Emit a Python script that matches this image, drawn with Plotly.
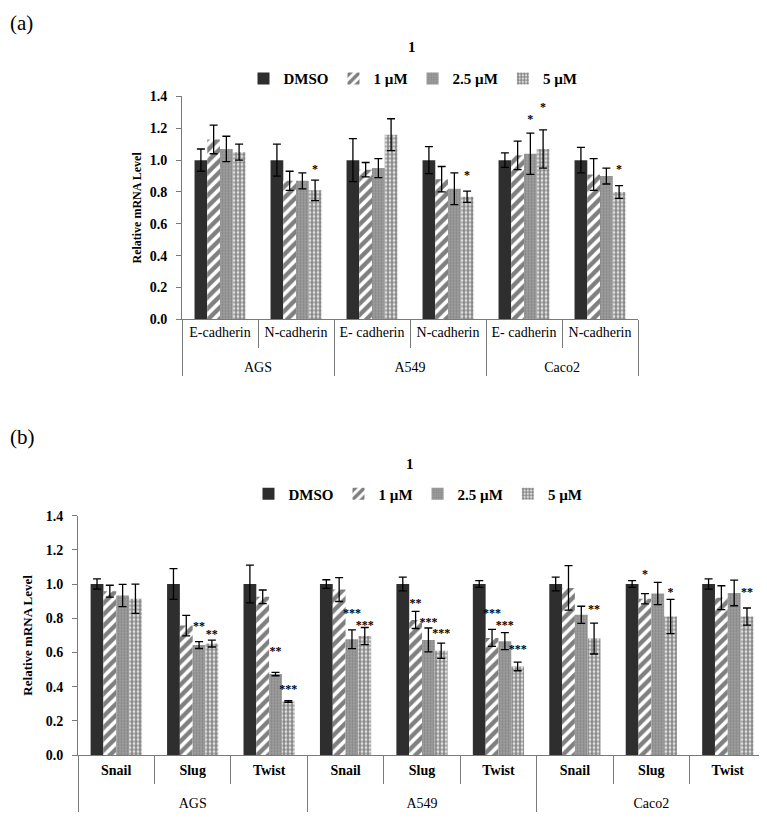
import plotly.graph_objects as go

# series names
doses = ["DMSO", "1 µM", "2.5 µM", "5 µM"]

# ---- panel (a): cadherins (listed gene by gene so the axis keeps E before N) ----
a_lines = ["AGS", "A549", "Caco2", "AGS", "A549", "Caco2"]
a_genes = ["E-cadherin", "E- cadherin", "E- cadherin", "N-cadherin", "N-cadherin", "N-cadherin"]
a_dmso = [1.00, 1.00, 1.00, 1.00, 1.00, 1.00]
a_1um = [1.13, 0.94, 1.03, 0.87, 0.88, 0.91]
a_25um = [1.07, 0.95, 1.04, 0.87, 0.82, 0.90]
a_5um = [1.05, 1.16, 1.07, 0.81, 0.77, 0.80]
a_dmso_err = [0.07, 0.135, 0.045, 0.10, 0.085, 0.08]
a_1um_err = [0.09, 0.045, 0.09, 0.06, 0.08, 0.10]
a_25um_err = [0.08, 0.06, 0.13, 0.05, 0.10, 0.05]
a_5um_err = [0.05, 0.10, 0.12, 0.065, 0.035, 0.04]
a_25um_sig = ["", "", "*", "", "", ""]
a_5um_sig = ["", "", "*", "*", "*", "*"]
a_25um_sig_y = [None, None, 1.25, None, None, None]
a_5um_sig_y = [None, None, 1.33, 0.935, 0.90, 0.94]

# ---- panel (b): EMT transcription factors ----
b_lines = ["AGS"] * 3 + ["A549"] * 3 + ["Caco2"] * 3
b_genes = ["Snail", "Slug", "Twist"] * 3
b_dmso = [1.00, 1.00, 1.00, 1.00, 1.00, 1.00, 1.00, 1.00, 1.00]
b_1um = [0.958, 0.757, 0.925, 0.968, 0.79, 0.685, 0.977, 0.914, 0.92]
b_25um = [0.933, 0.643, 0.474, 0.677, 0.673, 0.666, 0.82, 0.945, 0.948]
b_5um = [0.914, 0.652, 0.314, 0.696, 0.61, 0.518, 0.681, 0.81, 0.81]
b_dmso_err = [0.03, 0.09, 0.11, 0.025, 0.04, 0.02, 0.04, 0.02, 0.03]
b_1um_err = [0.035, 0.06, 0.04, 0.07, 0.05, 0.05, 0.13, 0.03, 0.07]
b_25um_err = [0.065, 0.02, 0.01, 0.055, 0.07, 0.05, 0.05, 0.065, 0.075]
b_5um_err = [0.085, 0.02, 0.005, 0.05, 0.045, 0.025, 0.09, 0.10, 0.05]
b_1um_sig = ["", "", "", "", "**", "***", "", "*", ""]
b_25um_sig = ["", "**", "**", "***", "***", "***", "", "", ""]
b_5um_sig = ["", "**", "***", "***", "***", "***", "**", "*", "**"]
b_1um_sig_y = [None, None, None, None, 0.885, 0.825, None, 1.05, None]
b_25um_sig_y = [None, 0.75, 0.60, 0.825, 0.77, 0.755, None, None, None]
b_5um_sig_y = [None, 0.70, 0.38, 0.755, 0.71, 0.615, 0.85, 0.945, 0.945]

SERIF = "Liberation Serif, Times New Roman, serif"
AXC = "#7a7a7a"

# fill look for each dose (solid / stripes / grey dots / speckles)
styles = [
    dict(color="#2e2e2e"),
    dict(color="white", pattern=dict(shape="/", fgcolor="black", bgcolor="white", size=8, solidity=0.55)),
    dict(color="#929292", pattern=dict(shape=".", fgcolor="#6a6a6a", bgcolor="#9c9c9c", size=3, solidity=0.35)),
    dict(color="white", pattern=dict(shape=".", fgcolor="#111111", bgcolor="white", size=4, solidity=0.7)),
]

fig = go.Figure()


def add_panel(xcats, vals, errs, sigs, sig_ys, xa, ya, legend):
    for name, v, e, st in zip(doses, vals, errs, styles):
        fig.add_trace(go.Bar(
            x=xcats, y=v, name=name, xaxis=xa, yaxis=ya, legend=legend,
            marker=dict(line=dict(width=0), **st),
            error_y=dict(type="data", array=e, color="black", thickness=1.3, width=4),
        ))
    # stars: one text trace per dose so they line up with the bars
    n = len(xcats[0])
    for name, s, sy in zip(doses, sigs, sig_ys):
        fig.add_trace(go.Scatter(
            x=xcats, y=sy if sy else [None] * n, text=s if s else [""] * n,
            mode="text", name=name, xaxis=xa, yaxis=ya,
            showlegend=False, hoverinfo="skip", marker=dict(color="black"),
            textfont=dict(family=SERIF, size=12, color="#000000", weight="bold"),
        ))


# a blank second line under each gene name leaves room above the cell-line row
a_x = [a_lines, [g + "<br> " for g in a_genes]]
b_x = [b_lines, ["<b>%s</b><br> " % g for g in b_genes]]

add_panel(a_x, [a_dmso, a_1um, a_25um, a_5um],
          [a_dmso_err, a_1um_err, a_25um_err, a_5um_err],
          [None, None, a_25um_sig, a_5um_sig],
          [None, None, a_25um_sig_y, a_5um_sig_y],
          "x", "y", "legend")
add_panel(b_x, [b_dmso, b_1um, b_25um, b_5um],
          [b_dmso_err, b_1um_err, b_25um_err, b_5um_err],
          [None, b_1um_sig, b_25um_sig, b_5um_sig],
          [None, b_1um_sig_y, b_25um_sig_y, b_5um_sig_y],
          "x2", "y2", "legend2")

# the page body has an 8px margin, so the figure is drawn 8px in from the corner
OFF = 8
W, H = 767 - OFF, 822 - OFF


def px_x(p):
    return (p - OFF) / W


def px_y(p):
    return 1 - (p - OFF) / H


xaxis_common = dict(
    type="multicategory", showline=True, linecolor=AXC, linewidth=1,
    ticks="outside", ticklen=28, tickcolor=AXC, tickangle=0, showdividers=True,
    dividercolor=AXC, dividerwidth=1, showgrid=False, zeroline=False,
    tickfont=dict(family=SERIF, size=14, color="black"),
)
yaxis_common = dict(
    range=[0, 1.4], dtick=0.2, tickformat=".1f", showline=True, linecolor=AXC,
    ticks="outside", ticklen=5, tickcolor=AXC, showgrid=False, zeroline=False,
    ticklabelstandoff=6,
    tickfont=dict(family=SERIF, size=14, color="black", weight="bold"),
)

legend_common = dict(
    orientation="h", xanchor="center", yanchor="middle",
    font=dict(family=SERIF, size=15, color="black", weight="bold"),
    itemwidth=30, bgcolor="rgba(0,0,0,0)", traceorder="normal",
)

fig.update_layout(
    width=W, height=H, margin=dict(l=0, r=0, t=0, b=0),
    paper_bgcolor="white", plot_bgcolor="white",
    barmode="group", bargap=0.33, bargroupgap=0,
    scattermode="group", scattergap=0.33,
    xaxis=dict(domain=[px_x(182), px_x(638)], anchor="y", **xaxis_common),
    yaxis=dict(domain=[px_y(318), px_y(91)], anchor="x",
               title=dict(text="Relative mRNA Level", standoff=5,
                          font=dict(family=SERIF, size=12, color="black", weight="bold")),
               **yaxis_common),
    xaxis2=dict(domain=[px_x(78), px_x(766)], anchor="y2", ticklabelstandoff=2, **xaxis_common),
    yaxis2=dict(domain=[px_y(762), px_y(518)], anchor="x2",
                title=dict(text="Relative mRNA Level", standoff=10,
                           font=dict(family=SERIF, size=13, color="black", weight="bold")),
                **yaxis_common),
    legend=dict(x=px_x(413), y=px_y(73), **legend_common),
    legend2=dict(x=px_x(418), y=px_y(496), **legend_common),
    showlegend=True,
    annotations=[
        dict(text="(a)", x=px_x(8), y=px_y(16), xref="paper", yref="paper",
             xanchor="left", yanchor="middle", showarrow=False,
             font=dict(family=SERIF, size=21, color="black")),
        dict(text="(b)", x=px_x(8), y=px_y(438), xref="paper", yref="paper",
             xanchor="left", yanchor="middle", showarrow=False,
             font=dict(family=SERIF, size=21, color="black")),
        dict(text="1", x=px_x(412), y=px_y(41), xref="paper", yref="paper",
             xanchor="center", yanchor="middle", showarrow=False,
             font=dict(family=SERIF, size=15, color="black", weight="bold")),
        dict(text="1", x=px_x(410), y=px_y(465), xref="paper", yref="paper",
             xanchor="center", yanchor="middle", showarrow=False,
             font=dict(family=SERIF, size=15, color="black", weight="bold")),
    ],
)

fig.write_html("out.html")
